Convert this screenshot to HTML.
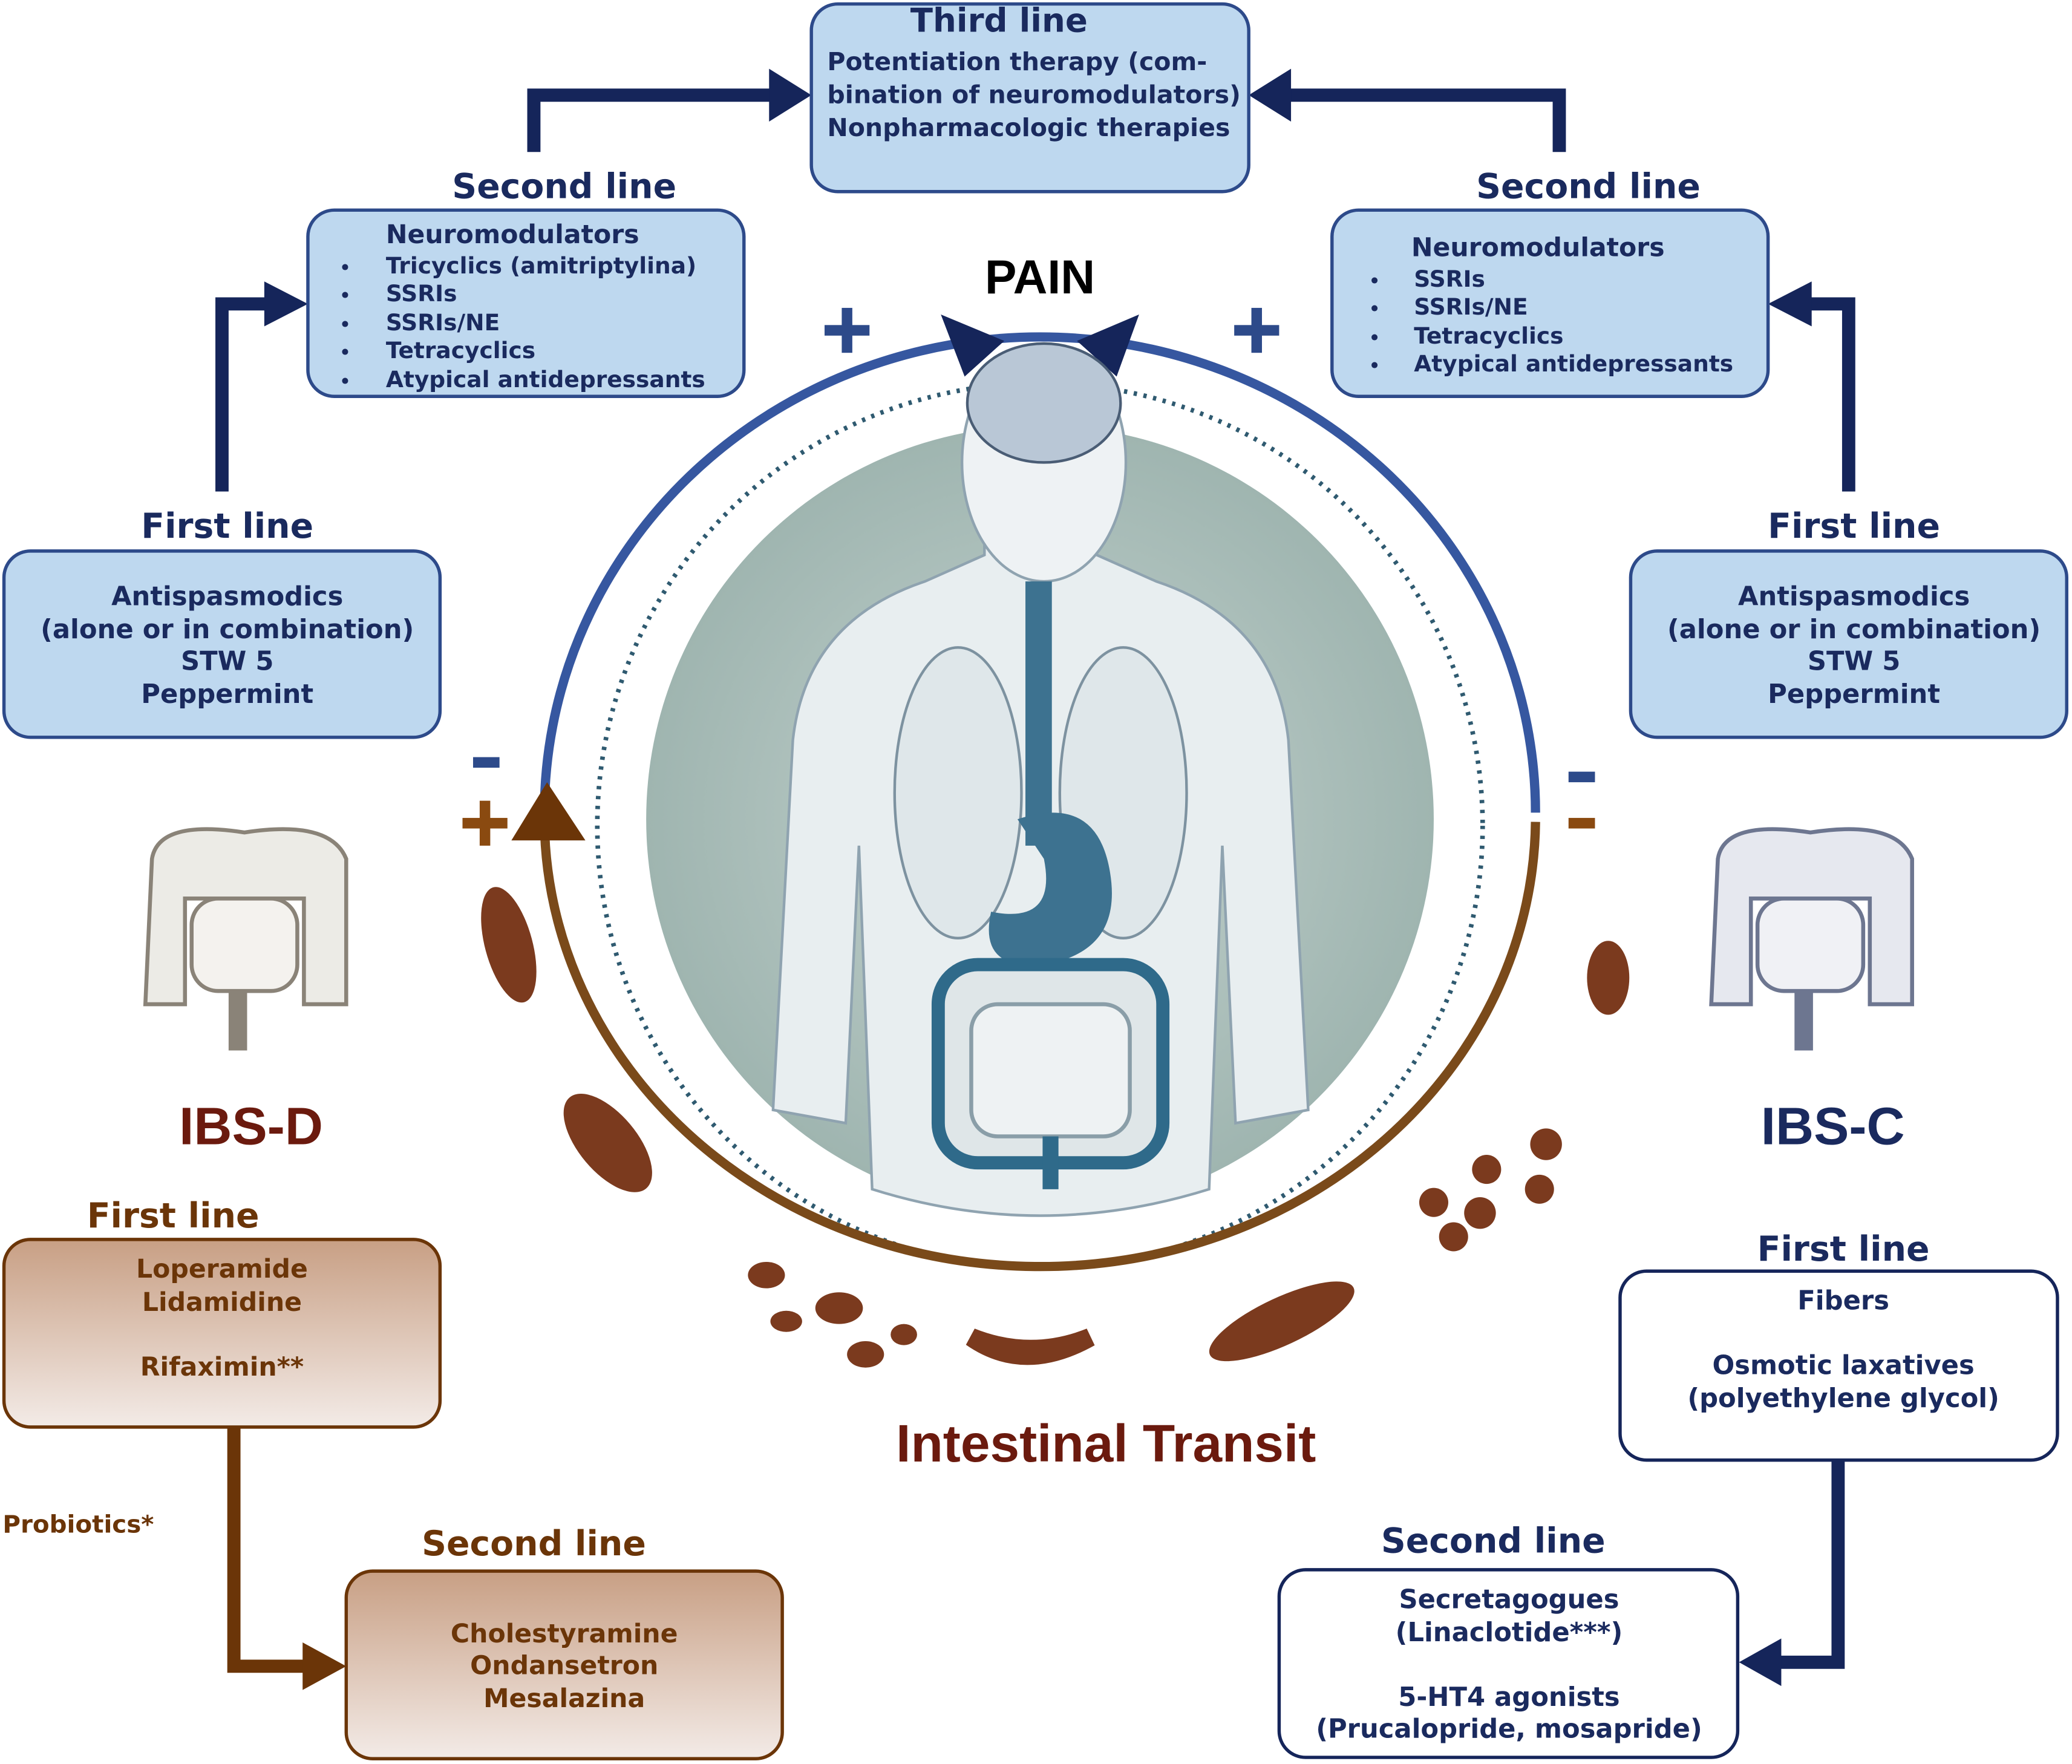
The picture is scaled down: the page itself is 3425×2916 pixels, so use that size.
<!DOCTYPE html>
<html><head><meta charset="utf-8"><style>
html,body{margin:0;padding:0;background:#fff}
svg{display:block}
text{font-family:"DejaVu Sans","Liberation Sans",sans-serif;font-weight:bold}
</style></head><body>
<svg width="3425" height="2916" viewBox="0 0 1568 1335" preserveAspectRatio="none" xmlns="http://www.w3.org/2000/svg">
<defs>
<linearGradient id="br" x1="0" y1="0" x2="0" y2="1"><stop offset="0" stop-color="#c89f84"/><stop offset="1" stop-color="#f3ebe7"/></linearGradient>
<radialGradient id="bg" cx="0.5" cy="0.5" r="0.5"><stop offset="0" stop-color="#c5d3cf"/><stop offset="1" stop-color="#9fb5b0"/></radialGradient>
</defs>
<g fill="none" stroke="#15255a" stroke-width="10">
<polyline points="404,115 404,72 590,72"/>
<polyline points="1180,115 1180,72 970,72"/>
<polyline points="168,372 168,230 210,230"/>
<polyline points="1399,372 1399,230 1362,230"/>
<polyline points="1391,1105 1391,1258 1340,1258"/>
</g>
<g fill="#15255a">
<polygon points="614,72 582,52 582,92"/>
<polygon points="945,72 977,52 977,92"/>
<polygon points="233,230 200,213 200,247"/>
<polygon points="1338,230 1371,213 1371,247"/>
<polygon points="1316,1258 1348,1240 1348,1276"/>
</g>
<polyline points="177,1080 177,1261 240,1261" fill="none" stroke="#6b3508" stroke-width="10"/>
<polygon points="262,1261 229,1243 229,1279" fill="#6b3508"/>

<g stroke="#2d4a8a" stroke-width="2.5" fill="#bed8ef">
<rect x="614" y="3" width="331" height="142" rx="20"/>
<rect x="233" y="159" width="330" height="141" rx="20"/>
<rect x="1008" y="159" width="330" height="141" rx="20"/>
<rect x="3" y="417" width="330" height="141" rx="20"/>
<rect x="1234" y="417" width="330" height="141" rx="20"/>
</g>
<g stroke="#6b3508" stroke-width="2.5" fill="url(#br)">
<rect x="3" y="938" width="330" height="142" rx="20"/>
<rect x="262" y="1189" width="330" height="142" rx="20"/>
</g>
<g stroke="#15255a" stroke-width="2.5" fill="#fff">
<rect x="1226" y="962" width="331" height="143" rx="20"/>
<rect x="968" y="1188" width="347" height="142" rx="20"/>
</g>

<circle cx="787" cy="620" r="298" fill="url(#bg)"/>
<circle cx="787" cy="625" r="335" fill="none" stroke="#2f5a70" stroke-width="3.5" stroke-dasharray="2.5,5"/>
<path d="M412,615 A375,360 0 0 1 1162,615" fill="none" stroke="#3657a0" stroke-width="7"/>
<path d="M412,615 A375,340 0 0 0 1162,622" fill="none" stroke="#7a4a1a" stroke-width="7"/>
<polygon points="712,238 760,258 730,285" fill="#15255a"/>
<polygon points="862,238 815,258 845,285" fill="#15255a"/>
<polygon points="414,592 387,636 443,636" fill="#6b3508"/>
<g fill="#2d4a8a"><rect x="624" y="246" width="34" height="8"/><rect x="637" y="233" width="8" height="34"/>
<rect x="934" y="246" width="34" height="8"/><rect x="947" y="233" width="8" height="34"/>
<rect x="358" y="573" width="20" height="8"/><rect x="1187" y="584" width="20" height="8"/></g>
<g fill="#8a4a10"><rect x="350" y="619" width="34" height="8"/><rect x="363" y="606" width="8" height="34"/><rect x="1187" y="619" width="20" height="8"/></g>

<path d="M700,440 Q610,470 600,560 L585,840 L640,850 L650,640 L660,900 Q787,940 915,900 L925,640 L935,850 L990,840 L975,560 Q965,470 875,440 L830,420 L830,380 L745,380 L745,420 Z" fill="#e8eef0" stroke="#8fa3b0" stroke-width="2"/>
<ellipse cx="790" cy="350" rx="62" ry="90" fill="#eef2f4" stroke="#8fa3b0" stroke-width="2"/>
<ellipse cx="790" cy="305" rx="58" ry="45" fill="#b9c7d6" stroke="#4a5d75" stroke-width="2"/>
<ellipse cx="725" cy="600" rx="48" ry="110" fill="#dfe7ea" stroke="#7d92a0" stroke-width="2"/>
<ellipse cx="850" cy="600" rx="48" ry="110" fill="#dfe7ea" stroke="#7d92a0" stroke-width="2"/>
<rect x="776" y="440" width="20" height="200" fill="#3d7290"/>
<path d="M770,620 Q830,600 840,660 Q850,720 790,730 Q740,735 750,690 Q800,700 790,650 Z" fill="#3d7290"/>
<rect x="710" y="730" width="170" height="150" rx="30" fill="#dfe6e8" stroke="#2f6a8a" stroke-width="10"/>
<rect x="735" y="760" width="120" height="100" rx="20" fill="#eef2f3" stroke="#8a9ea8" stroke-width="3"/>
<path d="M795,860 L795,900" stroke="#2f6a8a" stroke-width="12"/>

<g fill="#7b3a1e">
<ellipse cx="385" cy="715" rx="18" ry="45" transform="rotate(-15 385 715)"/>
<ellipse cx="460" cy="865" rx="22" ry="45" transform="rotate(-40 460 865)"/>
<ellipse cx="580" cy="965" rx="14" ry="10"/><ellipse cx="595" cy="1000" rx="12" ry="8"/>
<ellipse cx="635" cy="990" rx="18" ry="12"/><ellipse cx="655" cy="1025" rx="14" ry="10"/><ellipse cx="684" cy="1010" rx="10" ry="8"/>
<path d="M735,1012 Q775,1040 825,1012 Q780,1030 735,1012 Z" stroke="#7b3a1e" stroke-width="14"/>
<ellipse cx="970" cy="1000" rx="60" ry="18" transform="rotate(-25 970 1000)"/>
<ellipse cx="1217" cy="740" rx="16" ry="28"/>
<circle cx="1170" cy="866" r="12"/><circle cx="1125" cy="885" r="11"/><circle cx="1165" cy="900" r="11"/>
<circle cx="1085" cy="910" r="11"/><circle cx="1120" cy="918" r="12"/><circle cx="1100" cy="936" r="11"/>
</g>

<g fill="#ecebe6" stroke="#8a8378" stroke-width="3">
<path d="M115,650 Q120,620 185,630 Q250,620 262,650 L262,760 L230,760 L230,680 L140,680 L140,760 L110,760 Z"/>
<rect x="145" y="680" width="80" height="70" rx="20" fill="#f4f2ee"/>
<path d="M180,750 L180,795" stroke-width="14"/>
</g>
<g fill="#e6e8ef" stroke="#6d7690" stroke-width="3">
<path d="M1300,650 Q1305,620 1370,630 Q1435,620 1447,650 L1447,760 L1415,760 L1415,680 L1325,680 L1325,760 L1295,760 Z"/>
<rect x="1330" y="680" width="80" height="70" rx="20" fill="#f0f1f5"/>
<path d="M1365,750 L1365,795" stroke-width="14"/>
</g>

<g fill="#1a2a5e" text-anchor="middle">
<text x="756" y="24" font-size="25">Third line</text>
<text x="427" y="150" font-size="26">Second line</text>
<text x="1202" y="150" font-size="26">Second line</text>
<text x="172" y="407" font-size="26">First line</text>
<text x="1403" y="407" font-size="26">First line</text>
<text x="1395" y="954" font-size="26">First line</text>
<text x="1130" y="1175" font-size="26">Second line</text>
</g>
<g fill="#1a2a5e" font-size="18.8">
<text x="626" y="53">Potentiation therapy (com-</text>
<text x="626" y="78">bination of neuromodulators)</text>
<text x="626" y="103">Nonpharmacologic therapies</text>
</g>
<g fill="#1a2a5e" font-size="17.2">
<text x="292" y="184" font-size="19.5">Neuromodulators</text>
<text x="292" y="207">Tricyclics (amitriptylina)</text>
<text x="292" y="228">SSRIs</text>
<text x="292" y="250">SSRIs/NE</text>
<text x="292" y="271">Tetracyclics</text>
<text x="292" y="293">Atypical antidepressants</text>
<text x="257" y="207" font-size="13">•</text><text x="257" y="228" font-size="13">•</text><text x="257" y="250" font-size="13">•</text><text x="257" y="271" font-size="13">•</text><text x="257" y="293" font-size="13">•</text>
<text x="1068" y="194" font-size="19.5">Neuromodulators</text>
<text x="1070" y="217">SSRIs</text>
<text x="1070" y="238">SSRIs/NE</text>
<text x="1070" y="260">Tetracyclics</text>
<text x="1070" y="281">Atypical antidepressants</text>
<text x="1036" y="217" font-size="13">•</text><text x="1036" y="238" font-size="13">•</text><text x="1036" y="260" font-size="13">•</text><text x="1036" y="281" font-size="13">•</text>
</g>
<g fill="#1a2a5e" font-size="19.8" text-anchor="middle">
<text x="172" y="458">Antispasmodics</text>
<text x="172" y="483">(alone or in combination)</text>
<text x="172" y="507">STW 5</text>
<text x="172" y="532">Peppermint</text>
<text x="1403" y="458">Antispasmodics</text>
<text x="1403" y="483">(alone or in combination)</text>
<text x="1403" y="507">STW 5</text>
<text x="1403" y="532">Peppermint</text>
</g>
<g fill="#1a2a5e" font-size="19.8" text-anchor="middle">
<text x="1395" y="991">Fibers</text>
<text x="1395" y="1040">Osmotic laxatives</text>
<text x="1395" y="1065">(polyethylene glycol)</text>
<text x="1142" y="1217">Secretagogues</text>
<text x="1142" y="1242">(Linaclotide***)</text>
<text x="1142" y="1291">5-HT4 agonists</text>
<text x="1142" y="1315">(Prucalopride, mosapride)</text>
</g>
<text x="787" y="222" font-size="36" fill="#000" text-anchor="middle" style="font-family:'Liberation Sans',sans-serif">PAIN</text>
<text x="190" y="866" font-size="40" fill="#6b1a0e" text-anchor="middle" style="font-family:'Liberation Sans',sans-serif">IBS-D</text>
<text x="1387" y="866" font-size="40" fill="#1a2a5e" text-anchor="middle" style="font-family:'Liberation Sans',sans-serif">IBS-C</text>
<text x="837" y="1106" font-size="40" fill="#6b1a0e" text-anchor="middle" style="font-family:'Liberation Sans',sans-serif">Intestinal Transit</text>
<g fill="#6b3508" text-anchor="middle">
<text x="131" y="929" font-size="26">First line</text>
<text x="404" y="1177" font-size="26">Second line</text>
<text x="168" y="967" font-size="19.5">Loperamide</text>
<text x="168" y="992" font-size="19.5">Lidamidine</text>
<text x="168" y="1041" font-size="19.5">Rifaximin**</text>
<text x="427" y="1243" font-size="19.5">Cholestyramine</text>
<text x="427" y="1267" font-size="19.5">Ondansetron</text>
<text x="427" y="1292" font-size="19.5">Mesalazina</text>
</g>
<text x="2" y="1160" font-size="18.5" fill="#6b3508">Probiotics*</text>
</svg>
</body></html>
